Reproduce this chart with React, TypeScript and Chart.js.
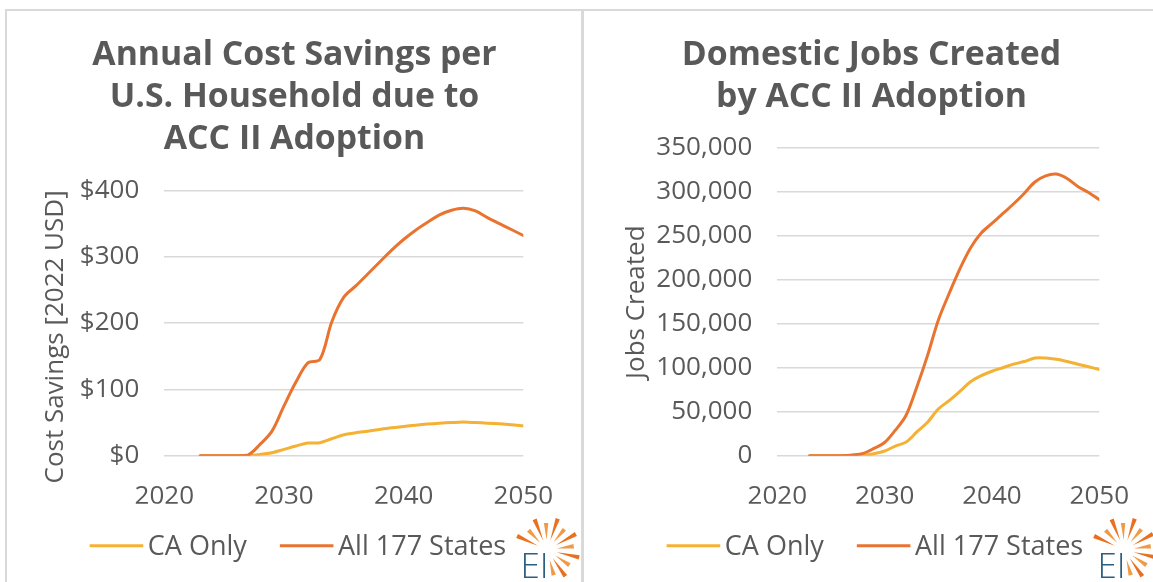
import React, { useEffect, useRef } from 'react';
import { Chart, registerables } from 'chart.js';

Chart.register(...registerables);

// ---------------- data ----------------
const years = [
  2023, 2024, 2025, 2026, 2027, 2028, 2029, 2030, 2031, 2032, 2033, 2034, 2035, 2036,
  2037, 2038, 2039, 2040, 2041, 2042, 2043, 2044, 2045, 2046, 2047, 2048, 2049, 2050,
];
const savingsCA = [
  0, 0, 0, 0, 0, 2, 4.5, 9.5, 14.6, 19, 19.6, 25.6, 31.6, 34.6,
  37, 39.6, 42, 44, 46, 47.7, 49, 50, 50.7, 50, 49, 48, 46.7, 45,
];
const savingsAll = [
  0, 0, 0, 0, 1, 17, 37, 75, 111, 140, 145, 202, 239, 256,
  274, 292, 310, 326, 340, 352, 363, 370, 373, 369, 359, 350, 341, 332,
];
const jobsCA = [
  0, 0, 0, 0, 0, 400, 2300, 5300, 11000, 15500, 27000, 38000, 53000, 62500,
  73000, 84000, 91000, 96000, 100000, 104000, 107000, 111000, 111000, 109500, 107000, 104000, 101000, 98000,
];
const jobsAll = [
  0, 0, 0, 0, 800, 2700, 8300, 15000, 29000, 46000, 78000, 114000, 154000, 184000,
  212000, 236000, 253000, 264000, 275000, 286000, 298000, 311000, 318000, 320000, 315000, 306000, 299000, 291000,
];
const seriesLabels = ['CA Only', 'All 177 States'];
const xTickValues = [2020, 2030, 2040, 2050];
const savingsTickValues = [0, 100, 200, 300, 400];
const jobsTickValues = [0, 50000, 100000, 150000, 200000, 250000, 300000, 350000];
const savingsTitle = ['Annual Cost Savings per', 'U.S. Household due to', 'ACC II Adoption'];
const jobsTitle = ['Domestic Jobs Created', 'by ACC II Adoption'];
const savingsAxisTitle = 'Cost Savings [2022 USD]';
const jobsAxisTitle = 'Jobs Created';
const logoText = 'EI';

// ---------------- style ----------------
const FONT = "'Open Sans', sans-serif";
const TEXT = '#595959';
const CA_COLOR = '#F4B133';
const ALL_COLOR = '#E97430';
const GRID = '#D9D9D9';
const CANVAS_H = 572;

type PanelCfg = {
  left: number;
  width: number;
  title: string[];
  yTitle: string;
  yTitleX: number;
  yTitleY: number;
  yAxisWidth: number;
  padTop: number;
  padRight: number;
  yMax: number;
  yTicks: number[];
  yFmt: (v: number) => string;
  ca: number[];
  all: number[];
};

function makeDecor(cfg: PanelCfg) {
  return {
    id: 'decor',
    afterDraw(chart: any) {
      const ctx: CanvasRenderingContext2D = chart.ctx;
      ctx.save();
      // title
      ctx.fillStyle = TEXT;
      ctx.textAlign = 'center';
      ctx.textBaseline = 'alphabetic';
      ctx.font = `bold 33.8px ${FONT}`;
      cfg.title.forEach((line, i) => ctx.fillText(line, 287.5, 55 + i * 41.8));

      // y-axis title
      ctx.save();
      ctx.translate(cfg.yTitleX, cfg.yTitleY);
      ctx.rotate(-Math.PI / 2);
      ctx.font = `26px ${FONT}`;
      ctx.fillText(cfg.yTitle, 0, 0);
      ctx.restore();

      // legend
      ctx.font = `27px ${FONT}`;
      ctx.textAlign = 'left';
      const lineLen = 53.6;
      const gapLT = 4.6;
      const gapItem = 33;
      const items = chart.data.datasets.map((d: any) => ({
        label: d.label as string,
        color: d.borderColor as string,
        w: ctx.measureText(d.label).width,
      }));
      let total = 0;
      items.forEach((it: any, i: number) => {
        total += lineLen + gapLT + it.w + (i < items.length - 1 ? gapItem : 0);
      });
      let x = 290.9 - total / 2;
      const lineY = 535.7;
      const baseY = 544.9;
      items.forEach((it: any) => {
        ctx.strokeStyle = it.color;
        ctx.lineWidth = 3;
        ctx.lineCap = 'butt';
        ctx.beginPath();
        ctx.moveTo(x, lineY);
        ctx.lineTo(x + lineLen, lineY);
        ctx.stroke();
        x += lineLen + gapLT;
        ctx.fillStyle = TEXT;
        ctx.fillText(it.label, x, baseY);
        x += it.w + gapItem;
      });

      // logo
      const cx = 540;
      const cy = 540;
      const rays = [
        [155, 33], [133, 27], [112, 33], [92, 27], [71, 33], [50, 27],
        [29, 33], [8, 27], [-13, 33], [-34, 27], [-55, 32], [-75, 26],
      ];
      rays.forEach(([a, r], i) => {
        const t = (a * Math.PI) / 180;
        const ux = Math.cos(t);
        const uy = -Math.sin(t);
        const px = -uy;
        const py = ux;
        const r0 = 10;
        const hw = 2.2;
        ctx.fillStyle = i % 2 === 0 ? '#E8701E' : '#F09A45';
        ctx.beginPath();
        ctx.moveTo(cx + ux * r0, cy + uy * r0);
        ctx.lineTo(cx + ux * r + px * hw, cy + uy * r + py * hw);
        ctx.lineTo(cx + ux * r - px * hw, cy + uy * r - py * hw);
        ctx.closePath();
        ctx.fill();
      });
      ctx.fillStyle = '#2D5F80';
      ctx.font = `300 35px ${FONT}`;
      ctx.textAlign = 'left';
      ctx.fillText(logoText, 513.5, 568.3);
      ctx.restore();
    },
  };
}

function Panel({ cfg }: { cfg: PanelCfg }) {
  const ref = useRef<HTMLCanvasElement>(null);
  useEffect(() => {
    const canvas = ref.current;
    if (!canvas) return;
    const tickFont = { family: FONT, size: 26 };
    const lineStyle = {
      borderWidth: 3,
      pointRadius: 0,
      tension: 0.33,
      borderCapStyle: 'round',
      borderJoinStyle: 'round',
    };
    const chart = new Chart(canvas, {
      type: 'line',
      data: {
        datasets: [
          {
            label: seriesLabels[0],
            data: years.map((y, i) => ({ x: y, y: cfg.ca[i] })),
            borderColor: CA_COLOR,
            backgroundColor: CA_COLOR,
            ...lineStyle,
            order: 1,
          },
          {
            label: seriesLabels[1],
            data: years.map((y, i) => ({ x: y, y: cfg.all[i] })),
            borderColor: ALL_COLOR,
            backgroundColor: ALL_COLOR,
            ...lineStyle,
            order: 0,
          },
        ],
      },
      options: {
        responsive: false,
        animation: false,
        events: [],
        layout: {
          padding: { left: 0, right: cfg.padRight, top: cfg.padTop, bottom: CANVAS_H - 445.7 - 48 },
        },
        plugins: {
          legend: { display: false },
          title: { display: false },
          tooltip: { enabled: false },
        },
        scales: {
          x: {
            type: 'linear',
            min: 2020,
            max: 2050,
            afterBuildTicks: (s: any) => {
              s.ticks = xTickValues.map((v) => ({ value: v }));
            },
            grid: { display: false },
            border: { display: false },
            ticks: {
              color: TEXT,
              font: tickFont,
              padding: 17,
              maxRotation: 0,
              autoSkip: false,
              callback: (v: any) => String(v),
            },
            afterFit: (s: any) => {
              s.height = 48;
            },
          },
          y: {
            type: 'linear',
            min: 0,
            max: cfg.yMax,
            afterBuildTicks: (s: any) => {
              s.ticks = cfg.yTicks.map((v) => ({ value: v }));
            },
            grid: { color: GRID, lineWidth: 1.5, drawTicks: false },
            border: { display: false },
            ticks: {
              color: TEXT,
              font: tickFont,
              padding: 25,
              callback: (v: any) => cfg.yFmt(Number(v)),
            },
            afterFit: (s: any) => {
              s.width = cfg.yAxisWidth;
            },
          },
        },
      },
      plugins: [makeDecor(cfg)],
    } as any);
    return () => chart.destroy();
  }, [cfg]);
  return (
    <canvas
      ref={ref}
      width={cfg.width}
      height={CANVAS_H}
      style={{ position: 'absolute', left: cfg.left, top: 10, width: cfg.width, height: CANVAS_H }}
    />
  );
}

const leftCfg: PanelCfg = {
  left: 7,
  width: 574,
  title: savingsTitle,
  yTitle: savingsAxisTitle,
  yTitleX: 55.9,
  yTitleY: 326.9,
  yAxisWidth: 157.3,
  padTop: 180.4,
  padRight: 574 - 516.3,
  yMax: 400,
  yTicks: savingsTickValues,
  yFmt: (v) => '$' + v,
  ca: savingsCA,
  all: savingsAll,
};

const rightCfg: PanelCfg = {
  left: 584,
  width: 569,
  title: jobsTitle,
  yTitle: jobsAxisTitle,
  yTitleX: 60,
  yTitleY: 292.2,
  yAxisWidth: 193.3,
  padTop: 137.7,
  padRight: 569 - 515.3,
  yMax: 350000,
  yTicks: jobsTickValues,
  yFmt: (v) => v.toLocaleString('en-US'),
  ca: jobsCA,
  all: jobsAll,
};

export default function App() {
  const border = '#D9D9D9';
  return (
    <div
      style={{
        position: 'absolute',
        left: 0,
        top: 0,
        width: 1153,
        height: 582,
        overflow: 'hidden',
        background: '#ffffff',
      }}
    >
      <div style={{ position: 'absolute', left: 5, top: 9, width: 1148, height: 2, background: border }} />
      <div style={{ position: 'absolute', left: 5, top: 9, width: 2, height: 573, background: border }} />
      <div style={{ position: 'absolute', left: 581, top: 9, width: 3, height: 573, background: border }} />
      <Panel cfg={leftCfg} />
      <Panel cfg={rightCfg} />
    </div>
  );
}
